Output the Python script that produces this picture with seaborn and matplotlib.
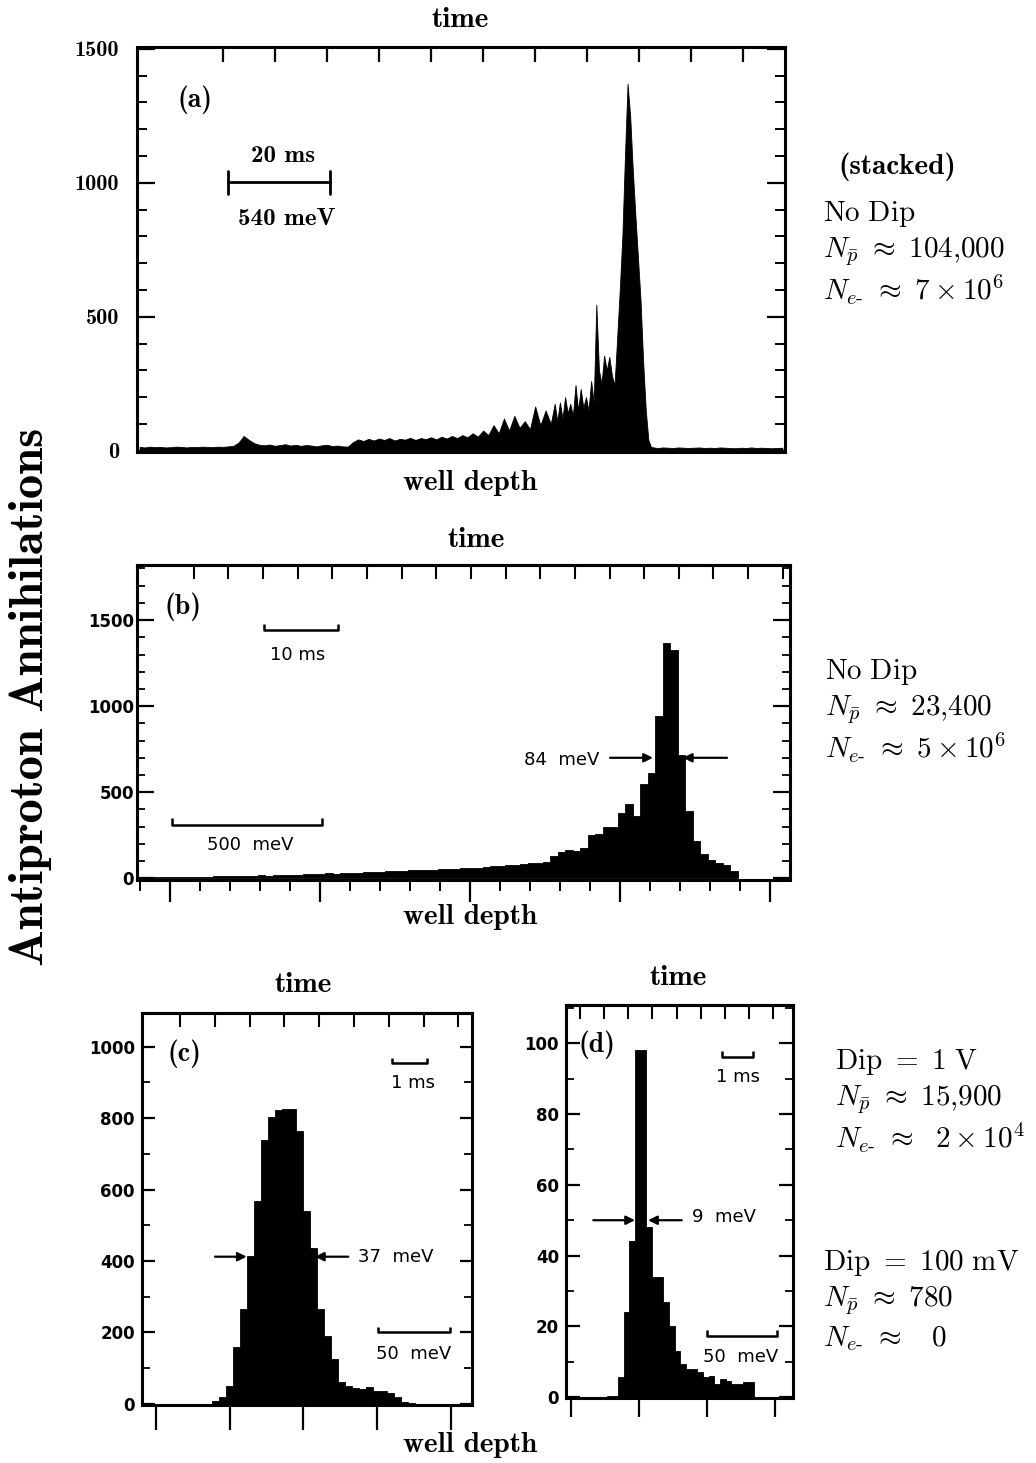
import numpy as np
import matplotlib
matplotlib.use("Agg")
import matplotlib.pyplot as plt
from matplotlib.ticker import MultipleLocator
import seaborn as sns

# ---------------- data ----------------
# (a) stacked, time axis in ms; 1 ms bins, then 0.5 ms bins round the peak, then 1 ms
a_counts_coarse = [14, 12, 15, 13, 14, 12, 13, 15, 14, 12,
                   14, 13, 15, 14, 13, 15, 14, 16, 18, 30,
                   55, 40, 28, 22, 20, 23, 18, 21, 24, 19,
                   22, 18, 21, 19, 16, 20, 22, 17, 19, 16,
                   15, 32, 42, 36, 44, 38, 45, 40, 47, 38,
                   44, 41, 48, 40, 47, 43, 50, 42, 52, 45,
                   55, 47, 58, 50, 65, 52, 75, 58, 95, 65,
                   120, 75, 130, 85, 110, 80, 165, 95, 150, 100]
a_counts_fine = [175, 110, 180, 120, 200, 140, 175, 130, 245, 150,
                 230, 160, 200, 150, 260, 180, 545, 300, 250, 355,
                 300, 350, 280, 245, 420, 600, 800, 1100, 1370, 1250,
                 1050, 880, 720, 560, 330, 150, 40, 14, 12]
a_counts_tail = [10, 12, 11, 10, 12, 11, 10, 11, 12, 10, 11, 10, 12,
                 11, 10, 9, 11, 10, 12, 10, 11, 10, 9, 10, 11]
a_yticks = [0, 500, 1000, 1500]
a_time_ticks = [20, 30, 40, 50, 60, 70, 80, 90, 100, 110, 120]

# (b) no dip, well depth in meV, 25 meV bins
b_bin_start = -108.0
b_bin_width = 25.0
b_counts = [3, 4, 5, 5, 6, 7, 8, 8, 10, 9,
            11, 12, 13, 12, 14, 16, 17, 16, 18, 20,
            19, 21, 22, 24, 25, 28, 27, 30, 32, 31,
            34, 36, 38, 40, 44, 43, 46, 48, 47, 50,
            52, 55, 54, 58, 60, 62, 66, 70, 74, 78,
            80, 84, 88, 90, 95, 130, 150, 165, 160, 175,
            250, 258, 296, 300, 380, 432, 360, 548, 613, 940,
            1369, 1325, 719, 392, 219, 142, 104, 90, 80, 40]
b_yticks = [0, 500, 1000, 1500]

# (c) dip = 1 V
c_bin_start = 38.3
c_bin_width = 4.75
c_counts = [8, 19, 51, 158, 265, 414, 567, 739, 804, 823,
            826, 826, 763, 539, 437, 265, 191, 126, 60, 51,
            44, 42, 48, 37, 37, 30, 18, 5, 2]
c_yticks = [0, 200, 400, 600, 800, 1000]

# (d) dip = 100 mV
d_bin_start = 26.4
d_bin_width = 4.155
d_counts = [0.4, 0.4, 5.6, 24, 44, 98, 98, 48, 34, 34,
            27, 20, 13, 9.4, 8, 8, 7, 5.6, 6, 3.8,
            5.2, 4.5, 3.8, 3.8, 4.2, 4.2]
d_yticks = [0, 20, 40, 60, 80, 100]

NE = r"N_{e\text{-}}"
notes_a = ["(stacked)", r"$\mathrm{No\ Dip}$",
           r"$N_{\bar{p}}\ \approx\ 104{,}000$", r"$" + NE + r"\ \approx\ 7\times10^{6}$"]
notes_b = [r"$\mathrm{No\ Dip}$", r"$N_{\bar{p}}\ \approx\ 23{,}400$",
           r"$" + NE + r"\ \approx\ 5\times10^{6}$"]
notes_c = [r"$\mathrm{Dip}\ =\ 1\ \mathrm{V}$", r"$N_{\bar{p}}\ \approx\ 15{,}900$",
           r"$" + NE + r"\ \approx\ \ 2\times10^{4}$"]
notes_d = [r"$\mathrm{Dip}\ =\ 100\ \mathrm{mV}$", r"$N_{\bar{p}}\ \approx\ 780$",
           r"$" + NE + r"\ \approx\ \ \ 0$"]

# ---------------- style ----------------
sns.set_theme(style="white")
plt.rcParams["mathtext.fontset"] = "cm"
plt.rcParams["axes.edgecolor"] = "black"
plt.rcParams["xtick.color"] = "black"
plt.rcParams["ytick.color"] = "black"
plt.rcParams["text.color"] = "black"
plt.rcParams["axes.unicode_minus"] = False

CM_BOLD = "cmb10"
PLOT_FONT = ["DejaVu Sans"]

W, H = 1036, 1463
fig = plt.figure(figsize=(W / 100, H / 100), dpi=100)


def box(l, t, r, b):
    return [l / W, 1 - b / H, (r - l) / W, (b - t) / H]


def ftext(px, py, s, **kw):
    fig.text(px / W, 1 - py / H, s, **kw)


def hist(ax, edges, counts, element="step"):
    edges = np.asarray(edges, float)
    mids = 0.5 * (edges[:-1] + edges[1:])
    # seaborn compares bins with strings, so hand it a plain list
    sns.histplot(x=mids, weights=counts, bins=edges.tolist(), element=element, fill=True,
                 color="black", alpha=1, linewidth=0.6, ax=ax)
    ax.set_xlabel("")
    ax.set_ylabel("")
    for s in ax.spines.values():
        s.set_visible(True)
        s.set_linewidth(2.2)


def time_axis(ax, x0, per_ms, ticks):
    sec = ax.secondary_xaxis("top", functions=(lambda x: (x - x0) / per_ms,
                                               lambda t: t * per_ms + x0))
    sec.set_xticks(ticks)
    sec.tick_params(direction="in", length=10, width=1.5, labeltop=False)
    sec.spines["top"].set_linewidth(2.2)
    return sec


def bracket(ax, x0, x1, y, h, **kw):
    ax.plot([x0, x0, x1, x1], [y + h, y, y, y + h], color="black", lw=1.8,
            solid_capstyle="butt", **kw)


def arrow(ax, tail, head):
    ax.annotate("", xy=head, xytext=tail,
                arrowprops=dict(arrowstyle="-|>", color="black", lw=1.6,
                                mutation_scale=13, shrinkA=0, shrinkB=0))


# ---------------- (a) ----------------
ax = fig.add_axes(box(137, 47, 785, 452))
a_edges = np.concatenate([np.arange(3.5, 83.5, 1.0),
                          np.arange(83.5, 103.0, 0.5),
                          np.arange(103.0, 128.5, 1.0)])
hist(ax, a_edges, a_counts_coarse + a_counts_fine + a_counts_tail, element="poly")
ax.set_xlim(3.5, 128)
ax.set_ylim(-5, 1507)
ax.set_xticks(a_time_ticks)
ax.tick_params(axis="x", which="both", top=True, bottom=False, labeltop=False,
               labelbottom=False, direction="in", length=11, width=1.6)
ax.set_yticks(a_yticks, [str(v) for v in a_yticks], fontfamily=CM_BOLD, fontsize=16)
ax.yaxis.set_minor_locator(MultipleLocator(100))
ax.tick_params(axis="y", which="major", left=True, right=True, direction="in",
               length=13, width=1.6, pad=13)
ax.tick_params(axis="y", which="minor", left=True, right=True, direction="in",
               length=7, width=1.4)
ax.text(0.0895, 0.869, "(a)", transform=ax.transAxes, ha="center", va="center",
        fontfamily=CM_BOLD, fontsize=20)
ax.plot([21, 40.6], [1002, 1002], color="black", lw=2)
ax.plot([21, 21], [959, 1045], color="black", lw=2)
ax.plot([40.6, 40.6], [959, 1045], color="black", lw=2)
ax.text(31.6, 1099, "20 ms", ha="center", va="center", fontfamily=CM_BOLD, fontsize=18)
ax.text(32.3, 864, "540 meV", ha="center", va="center", fontfamily=CM_BOLD, fontsize=18)

# ---------------- (b) ----------------
ax = fig.add_axes(box(137, 565, 790, 880))
b_edges = b_bin_start + b_bin_width * np.arange(len(b_counts) + 1)
hist(ax, b_edges, b_counts)
ax.set_xlim(-110, 2067)
ax.set_ylim(-10, 1820)
ax.xaxis.set_major_locator(MultipleLocator(500))
ax.xaxis.set_minor_locator(MultipleLocator(100))
ax.tick_params(axis="x", which="major", top=False, bottom=True, labelbottom=False,
               direction="out", length=16, width=1.6)
ax.tick_params(axis="x", which="minor", top=False, bottom=True, direction="out",
               length=8, width=1.4)
ax.set_yticks(b_yticks, [str(v) for v in b_yticks], fontfamily=PLOT_FONT,
              fontsize=12, fontweight="bold")
ax.yaxis.set_minor_locator(MultipleLocator(100))
ax.tick_params(axis="y", which="major", left=True, right=True, direction="in",
               length=12, width=1.6, pad=2)
ax.tick_params(axis="y", which="minor", left=True, right=True, direction="in",
               length=6, width=1.3)
time_axis(ax, 79.3, 23.1, np.arange(0, 90, 5))
ax.text(0.070, 0.867, "(b)", transform=ax.transAxes, ha="center", va="center",
        fontfamily=CM_BOLD, fontsize=20)
bracket(ax, 313, 560, 1442, 35)
ax.text(427, 1297, "10 ms", ha="center", va="center", fontfamily=PLOT_FONT, fontsize=13)
bracket(ax, 7, 507, 308, 40)
ax.text(267, 192, "500  meV", ha="center", va="center", fontfamily=PLOT_FONT, fontsize=13)
ax.text(1433, 690, "84  meV", ha="right", va="center", fontfamily=PLOT_FONT, fontsize=13)
arrow(ax, (1467, 700), (1610, 700))
arrow(ax, (1857, 700), (1710, 700))

# ---------------- (c) ----------------
ax = fig.add_axes(box(141.7, 1013, 471.7, 1405))
c_edges = c_bin_start + c_bin_width * np.arange(len(c_counts) + 1)
hist(ax, c_edges, c_counts)
ax.set_xlim(-9.6, 214.2)
ax.set_ylim(-3, 1094)
ax.xaxis.set_major_locator(MultipleLocator(50))
ax.tick_params(axis="x", which="major", top=False, bottom=True, labelbottom=False,
               direction="out", length=18, width=1.6)
ax.set_yticks(c_yticks, [str(v) for v in c_yticks], fontfamily=PLOT_FONT,
              fontsize=12, fontweight="bold")
ax.yaxis.set_minor_locator(MultipleLocator(100))
ax.tick_params(axis="y", which="major", left=True, right=True, direction="in",
               length=9, width=1.6, pad=5)
ax.tick_params(axis="y", which="minor", left=True, right=True, direction="in",
               length=6, width=1.3)
time_axis(ax, 16.4, 23.6, np.arange(0, 9, 1))
ax.text(0.131, 0.895, "(c)", transform=ax.transAxes, ha="center", va="center",
        fontfamily=CM_BOLD, fontsize=20)
bracket(ax, 159.9, 183.7, 954, 15)
ax.text(174.4, 899, "1 ms", ha="center", va="center", fontfamily=PLOT_FONT, fontsize=13)
bracket(ax, 150.8, 199.5, 200, 15)
ax.text(175, 140, "50  meV", ha="center", va="center", fontfamily=PLOT_FONT, fontsize=13)
ax.text(137, 412, "37  meV", ha="left", va="center", fontfamily=PLOT_FONT, fontsize=13)
arrow(ax, (40.1, 412), (61.6, 412))
arrow(ax, (130.5, 412), (107.9, 412))

# ---------------- (d) ----------------
ax = fig.add_axes(box(566, 1005, 793.3, 1398.3))
d_edges = d_bin_start + d_bin_width * np.arange(len(d_counts) + 1)
hist(ax, d_edges, d_counts)
ax.set_xlim(-3.4, 163.3)
ax.set_ylim(-0.3, 110.8)
ax.xaxis.set_major_locator(MultipleLocator(50))
ax.tick_params(axis="x", which="major", top=False, bottom=True, labelbottom=False,
               direction="out", length=14, width=1.6)
ax.set_yticks(d_yticks, [str(v) for v in d_yticks], fontfamily=PLOT_FONT,
              fontsize=12, fontweight="bold")
ax.yaxis.set_minor_locator(MultipleLocator(10))
ax.tick_params(axis="y", which="major", left=True, right=True, direction="in",
               length=10, width=1.6, pad=5)
ax.tick_params(axis="y", which="minor", left=True, right=True, direction="in",
               length=6, width=1.3)
time_axis(ax, 6.9, 17.7, np.arange(0, 9, 1))
ax.text(0.135, 0.898, "(d)", transform=ax.transAxes, ha="center", va="center",
        fontfamily=CM_BOLD, fontsize=20)
bracket(ax, 110.8, 133.5, 96.2, 1.5)
ax.text(122.7, 90.5, "1 ms", ha="center", va="center", fontfamily=PLOT_FONT, fontsize=13)
bracket(ax, 99.8, 151.1, 17.4, 1.5)
ax.text(125, 11.4, "50  meV", ha="center", va="center", fontfamily=PLOT_FONT, fontsize=13)
ax.text(88.8, 51, "9  meV", ha="left", va="center", fontfamily=PLOT_FONT, fontsize=13)
arrow(ax, (16.6, 50), (47.2, 50))
arrow(ax, (81.5, 50), (56.8, 50))

# ---------------- figure texts ----------------
bold = dict(fontfamily=CM_BOLD, fontsize=21, ha="center", va="center")
ftext(460, 20, "time", **bold)
ftext(470, 483, "well depth", **bold)
ftext(476, 540, "time", **bold)
ftext(470, 917, "well depth", **bold)
ftext(303, 985, "time", **bold)
ftext(678, 978, "time", **bold)
ftext(470, 1445, "well depth", **bold)
ftext(31, 697, "Antiproton Annihilations", fontfamily=CM_BOLD, fontsize=35,
      rotation=90, ha="center", va="center")

ftext(838, 167, notes_a[0], fontfamily=CM_BOLD, fontsize=21, ha="left", va="center")
for i, s in enumerate(notes_a[1:]):
    ftext(823, 214 + 38 * i, s, fontsize=21, ha="left", va="center")
for i, s in enumerate(notes_b):
    ftext(825, 672 + 38 * i, s, fontsize=21, ha="left", va="center")
for i, s in enumerate(notes_c):
    ftext(835, 1062 + 38 * i, s, fontsize=21, ha="left", va="center")
for i, s in enumerate(notes_d):
    ftext(823, 1263 + 38 * i, s, fontsize=21, ha="left", va="center")

fig.savefig("out.png", dpi=100)
